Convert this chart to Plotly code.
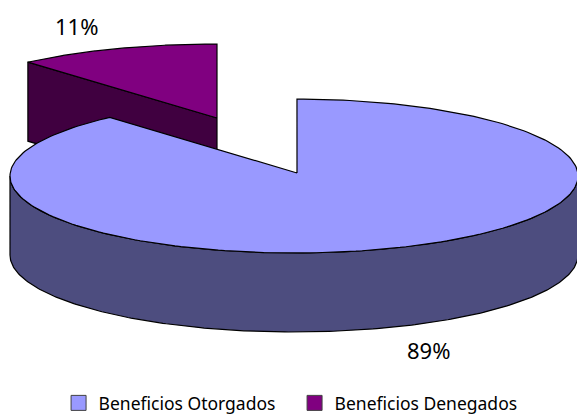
import numpy as np
import plotly.graph_objects as go

# Data
categories = ["Beneficios Otorgados", "Beneficios Denegados"]
shares = [88.6, 11.4]
colors_top = ["#9999FF", "#800080"]
colors_side = ["#4D4D7F", "#400040"]

W, H = 577, 421
DEPTH = 79
FONT = "Noto Sans"


def arc(cx, cy, rx, ry, a0, a1, n=240):
    """Angles in degrees, clockwise from twelve o'clock, projected to an ellipse."""
    t = np.radians(np.linspace(a0, a1, n))
    return cx + rx * np.sin(t), cy - ry * np.cos(t)


def poly(fig, x, y, fill):
    fig.add_trace(go.Scatter(x=list(x), y=list(y), mode="lines", fill="toself", fillcolor=fill,
                             line=dict(color="#000000", width=1.2), hoverinfo="skip", showlegend=False))


fig = go.Figure()

# Small exploded slice (behind)
span_small = 360 * shares[1] / 100
ax, ay = 217, 118
rx2, ry2 = 288, 74
x2, y2 = arc(ax, ay, rx2, ry2, -span_small, 0)
# cut face seen from the front
poly(fig, [ax, x2[0], x2[0], ax, ax], [ay, y2[0], y2[0] + DEPTH, ay + DEPTH, ay], colors_side[1])
poly(fig, [ax, *x2, ax], [ay, *y2, ay], colors_top[1])

# Large slice
span_big = 360 * shares[0] / 100
cx, cy, rx, ry = 294, 176, 284, 77
start = 0.6
vx, vy = 297, 173
fx, fy = arc(cx, cy, rx, ry, 90, 270)
poly(fig, [*fx, *fx[::-1], fx[0]], [*fy, *(fy[::-1] + DEPTH), fy[0]], colors_side[0])
x1, y1 = arc(cx, cy, rx, ry, start, start + span_big)
poly(fig, [vx, *x1, vx], [vy, *y1, vy], colors_top[0])

# Legend entries
for name, c in zip(categories, colors_top):
    fig.add_trace(go.Scatter(x=[None], y=[None], mode="markers", name=name,
                             marker=dict(symbol="square", size=15, color=c,
                                         line=dict(color="#404040", width=1))))

# Percentage labels
label_pos = [(428, 350), (76, 26)]
for v, (lx, ly) in zip(shares, label_pos):
    fig.add_annotation(x=lx, y=ly, text=f"{round(v)}%", showarrow=False,
                       font=dict(family=FONT, size=22, color="#000000"))

fig.update_layout(
    width=W, height=H, margin=dict(l=0, r=0, t=0, b=0),
    paper_bgcolor="#FFFFFF", plot_bgcolor="#FFFFFF",
    xaxis=dict(range=[0, W], visible=False, fixedrange=True),
    yaxis=dict(range=[H, 0], visible=False, fixedrange=True),
    legend=dict(orientation="h", x=0.1015, xanchor="left", y=0.0, yanchor="bottom",
                font=dict(family=FONT, size=17.5, color="#000000"), bgcolor="rgba(0,0,0,0)",
                itemwidth=30, entrywidth=191, entrywidthmode="pixels"),
)
fig.write_html("out.html", post_script="document.body.style.margin='0';document.body.style.overflow='hidden';",
               config={"displayModeBar": False})
